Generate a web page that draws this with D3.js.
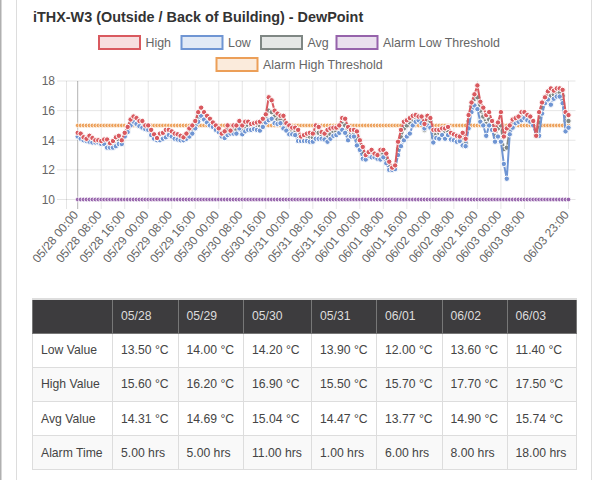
<!DOCTYPE html>
<html>
<head>
<meta charset="utf-8">
<title>iTHX-W3 DewPoint</title>
<script src="https://d3js.org/d3.v7.min.js"></script>
<style>
html, body { margin: 0; padding: 0; background: #fff; overflow: hidden; }
body { width: 607px; height: 480px; position: relative; font-family: "Liberation Sans", Arial, sans-serif; }
svg { position: absolute; left: 0; top: 0; }
text { font-family: "Liberation Sans", Arial, sans-serif; }
.grid { stroke: rgba(0,0,0,0.1); stroke-width: 1; }
table { position: absolute; left: 32px; top: 298px; width: 544px; border-collapse: collapse; table-layout: fixed; font-size: 12.2px; color: #444; border-top: 2px solid #ddd; }
th, td { border: 1px solid #ddd; height: 34.2px; padding: 0 8px; text-align: left; font-weight: normal; box-sizing: border-box; white-space: nowrap; }
th { background: #3d3c3e; color: #ddd; border-color: #777; }
tbody tr:nth-child(even) td { background: #f9f9f9; }
</style>
</head>
<body>
<svg id="chart" width="607" height="480"></svg>
<div id="summary"></div>

<script>
var title = "iTHX-W3 (Outside / Back of Building) - DewPoint";

var days = ["05/28", "05/29", "05/30", "05/31", "06/01", "06/02", "06/03"];
var tickLabels = ["05/28 00:00", "05/28 08:00", "05/28 16:00", "05/29 00:00", "05/29 08:00", "05/29 16:00",
	"05/30 00:00", "05/30 08:00", "05/30 16:00", "05/31 00:00", "05/31 08:00", "05/31 16:00",
	"06/01 00:00", "06/01 08:00", "06/01 16:00", "06/02 00:00", "06/02 08:00", "06/02 16:00",
	"06/03 00:00", "06/03 08:00", "06/03 23:00"];
var yTicks = [10, 12, 14, 16, 18];

// hourly readings, 05/28 00:00 to 06/03 23:00
var high = [
	14.5,14.45,14.2,14.1,14.3,14.15,14,14,13.95,14.05,
	14.05,13.8,13.95,14.2,14.3,14,14.5,14.9,15.4,15.6,
	15.5,15.3,15.3,15,15,14.7,14.4,14.15,14.45,14.5,
	14.7,14.7,14.6,14.45,14.4,14.3,14.2,14.45,14.8,15,
	15.3,15.9,16.2,15.9,15.65,15.45,15.2,15,14.8,14.45,
	14.6,15,14.65,15,15,15.3,15,15.25,15.25,15.1,
	15.15,15.2,15.25,15.45,15.75,16.9,16.7,16,15.8,15.65,
	15.65,15.15,15,14.85,14.85,14.7,14.25,14.35,14.45,14.5,
	14.45,15,14.9,14.55,14.45,14.7,14.8,14.85,14.85,15,
	15.5,15.45,14.9,14.7,14.7,14.6,14,13.55,13,13.2,
	13.35,13.1,13,13.35,13.35,13.1,12.55,12.15,12.3,13.9,
	14.7,15.25,15.35,15.5,15.65,15.7,15.6,15.6,15.1,15.65,
	15.5,14.7,14.7,14.7,14.8,14.8,14.9,14.5,14.4,14.3,
	14.25,14.5,14.1,15.7,16.55,17.1,17.7,16.6,16.2,15.7,
	15.9,15.3,14.7,15.2,15.9,14.25,14.8,15,15.4,15.5,
	15.6,15.9,15.9,15.7,15.6,15.3,14.3,15.9,16.55,16.9,
	17.3,17.5,17.35,17.5,17.5,17.4,15.9,15.7];

var low = [
	14.25,14.1,14,13.95,13.9,13.85,13.85,13.85,13.75,13.75,
	13.5,13.5,13.5,13.6,13.75,13.75,14.25,14.55,15,15.25,
	15.1,14.95,14.85,14.75,14.7,14.35,14.1,14,14,14.1,
	14.2,14.35,14.25,14.1,14.05,14,14,14.1,14.25,14.45,
	14.8,15.25,15.65,15.4,15.2,15,14.9,14.7,14.55,14.25,
	14.15,14.35,14.45,14.45,14.45,14.8,14.4,14.6,14.7,14.7,
	14.75,14.7,14.65,14.9,15.2,15.35,15.45,15.15,15.1,15.15,
	14.8,14.65,14.4,14.4,14.35,13.95,13.95,13.95,13.95,13.9,
	13.9,14.1,14.1,14.1,14.05,13.9,14.1,14.3,14.35,14.5,
	14.7,14.5,14,14.25,14.25,13.65,13.35,12.75,12.7,12.95,
	12.85,12.85,12.75,12.7,12.85,12.45,12,12,12.05,13,
	13.6,14,14.25,14.45,15,15.25,15.35,15.15,14.8,15,
	14.85,13.85,14.15,14.1,14.35,14.1,14.35,14.05,14,13.9,
	13.95,13.65,13.6,14.8,15.9,16.35,16.1,15.25,15,14.3,
	15,14.7,13.9,14.25,13.9,12.4,11.4,14.4,14.85,15.15,
	15.25,15.35,15.5,15.35,15.25,15,14.3,14.3,15.8,16.5,
	16.75,16.4,16.8,16.95,16.95,16.5,14.6,14.85];

var avg = [
	14.4,14.3,14.1,14.0,14.1,14.0,13.9,13.9,13.9,13.9,13.8,13.6,13.7,13.9,14.0,13.9,14.4,14.7,15.2,15.4,15.3,15.1,15.1,14.9,
	14.8,14.5,14.2,14.1,14.2,14.3,14.4,14.5,14.4,14.3,14.2,14.1,14.1,14.3,14.5,14.7,15.0,15.6,15.9,15.6,15.4,15.2,15.0,14.8,
	14.6,14.3,14.4,14.7,14.5,14.7,14.7,15.0,14.7,14.9,15.0,14.9,14.9,15.0,15.0,15.2,15.5,16.0,15.9,15.6,15.4,15.4,15.2,14.9,
	14.7,14.6,14.6,14.3,14.1,14.1,14.2,14.2,14.2,14.5,14.5,14.3,14.2,14.3,14.4,14.6,14.6,14.8,15.1,15.0,14.4,14.5,14.5,14.1,
	13.7,13.2,12.9,13.0,13.1,13.0,12.9,13.1,13.1,12.8,12.3,12.1,12.2,13.4,14.2,14.8,15.0,15.2,15.4,15.5,15.4,15.4,14.7,15.4,
	15.3,14.2,14.4,14.5,14.5,14.6,14.6,14.3,14.2,14.1,14.0,14.0,13.8,15.3,16.3,16.8,16.9,16.0,15.6,15.1,15.4,15.0,14.3,14.8,
	15.0,13.4,13.5,14.7,15.1,15.3,15.4,15.6,15.7,15.5,15.4,15.1,14.3,15.2,16.2,16.7,17.0,17.0,17.1,17.2,17.2,17.0,15.3,15.3];

var alarmLow = 10;
var alarmHigh = 15;

var rowNames = ["Low Value", "High Value", "Avg Value", "Alarm Time"];
var lowValues = ["13.50 °C", "14.00 °C", "14.20 °C", "13.90 °C", "12.00 °C", "13.60 °C", "11.40 °C"];
var highValues = ["15.60 °C", "16.20 °C", "16.90 °C", "15.50 °C", "15.70 °C", "17.70 °C", "17.50 °C"];
var avgValues = ["14.31 °C", "14.69 °C", "15.04 °C", "14.47 °C", "13.77 °C", "14.90 °C", "15.74 °C"];
var alarmTimes = ["5.00 hrs", "5.00 hrs", "11.00 hrs", "1.00 hrs", "6.00 hrs", "8.00 hrs", "18.00 hrs"];

// one category per hour
var hours = [];
days.forEach(function (day) {
	for (var h = 0; h < 24; h++) {
		hours.push(day + " " + (h < 10 ? "0" : "") + h + ":00");
	}
});

var series = [
	{ name: "Alarm High Threshold", values: hours.map(function () { return alarmHigh; }), color: "#ec9f58", fill: "rgba(233,154,79,0.2)", r: 2.3, border: 0.8, lineWidth: 0 },
	{ name: "Alarm Low Threshold", values: hours.map(function () { return alarmLow; }), color: "#9663ab", fill: "rgba(150,99,171,0.2)", r: 2.3, border: 0.8, lineWidth: 0 },
	{ name: "Avg", values: avg, color: "#7f8784", fill: "rgba(127,135,132,0.2)", r: 2.7, border: 1, lineWidth: 2 },
	{ name: "Low", values: low, color: "#6f95d3", fill: "rgba(111,149,211,0.2)", r: 2.7, border: 1, lineWidth: 2 },
	{ name: "High", values: high, color: "#d9595f", fill: "rgba(217,89,95,0.2)", r: 2.7, border: 1, lineWidth: 2 }
];

var svg = d3.select("#chart");

// page panel edges
svg.append("rect").attr("x", 0).attr("y", 0).attr("width", 1.5).attr("height", 480).attr("fill", "#b0b0b0");
svg.append("line").attr("x1", 16.5).attr("x2", 16.5).attr("y1", 0).attr("y2", 480).attr("stroke", "#ddd");
svg.append("line").attr("x1", 591.5).attr("x2", 591.5).attr("y1", 0).attr("y2", 480).attr("stroke", "#ddd");

svg.append("text").attr("x", 33).attr("y", 22)
	.attr("font-size", 14.4).attr("font-weight", "bold").attr("fill", "#333").text(title);

var xScale = d3.scalePoint().domain(hours).range([77.7, 568.5]);
var yScale = d3.scaleLinear().domain([10, 18]).range([199.5, 81]);

// left edge of the grid, then the axes
svg.append("line").attr("class", "grid").attr("x1", 66.5).attr("x2", 66.5).attr("y1", 81).attr("y2", 209);

var yAxis = d3.axisLeft(yScale).tickValues(yTicks).tickSize(0).tickPadding(0);
var yG = svg.append("g").attr("transform", "translate(55,0)").call(yAxis);
yG.select(".domain").remove();
yG.selectAll("text").attr("font-size", 12).attr("fill", "#666");
svg.selectAll("line.h").data(yTicks).enter().append("line").attr("class", "grid h")
	.attr("x1", 57).attr("x2", 575.5)
	.attr("y1", function (d) { return yScale(d); }).attr("y2", function (d) { return yScale(d); });

var xAxis = d3.axisBottom(xScale).tickValues(tickLabels).tickSize(0).tickPadding(0);
var xG = svg.append("g").attr("transform", "translate(0,208)").call(xAxis);
xG.select(".domain").remove();
xG.selectAll("text")
	.attr("font-size", 12).attr("fill", "#666")
	.attr("text-anchor", "end").attr("dy", "0.5em").attr("x", -5).attr("y", -1)
	.attr("transform", "rotate(-50)");
svg.selectAll("line.v").data(tickLabels).enter().append("line")
	.attr("class", "grid v")
	.attr("x1", function (d) { return xScale(d); }).attr("x2", function (d) { return xScale(d); })
	.attr("y1", 81).attr("y2", 209)
	.style("stroke", function (d, i) { return i == 0 ? "rgba(0,0,0,0.3)" : null; });

var line = d3.line()
	.x(function (d, i) { return xScale(hours[i]); })
	.y(function (d) { return yScale(d); });

series.forEach(function (s) {
	var g = svg.append("g");
	if (s.lineWidth > 0) {
		g.append("path").attr("d", line(s.values)).attr("fill", "none").attr("stroke", s.color).attr("stroke-width", s.lineWidth);
	}
	g.selectAll("circle").data(s.values).enter().append("circle")
		.attr("cx", function (d, i) { return xScale(hours[i]); })
		.attr("cy", function (d) { return yScale(d); })
		.attr("r", s.r)
		.attr("fill", s.color)
		.attr("stroke", "#fff")
		.attr("stroke-width", s.border);
});

// legend
var legendItems = [
	{ name: "High", x: 99, y: 36 },
	{ name: "Low", x: 181.5, y: 36 },
	{ name: "Avg", x: 261, y: 36 },
	{ name: "Alarm Low Threshold", x: 336.5, y: 36 },
	{ name: "Alarm High Threshold", x: 216.5, y: 58 }
];
legendItems.forEach(function (item) {
	var s = series.filter(function (d) { return d.name == item.name; })[0];
	svg.append("rect").attr("x", item.x).attr("y", item.y).attr("width", 41).attr("height", 13)
		.attr("fill", s.fill).attr("stroke", s.color).attr("stroke-width", 2);
	svg.append("text").attr("x", item.x + 46.5).attr("y", item.y + 10.5)
		.attr("font-size", 12.4).attr("fill", "#666").text(item.name);
});

// summary table
var colWidths = [80, 65.5, 65.5, 68, 65, 65.5, 65, 69];
var table = d3.select("#summary").append("table");
table.append("colgroup").selectAll("col").data(colWidths).enter().append("col")
	.style("width", function (d) { return d + "px"; });

var headRow = table.append("thead").append("tr");
headRow.selectAll("th").data([""].concat(days)).enter().append("th").text(function (d) { return d; });

var rows = [lowValues, highValues, avgValues, alarmTimes];
var body = table.append("tbody");
rows.forEach(function (values, i) {
	var tr = body.append("tr");
	tr.selectAll("td").data([rowNames[i]].concat(values)).enter().append("td").text(function (d) { return d; });
});
</script>
</body>
</html>
